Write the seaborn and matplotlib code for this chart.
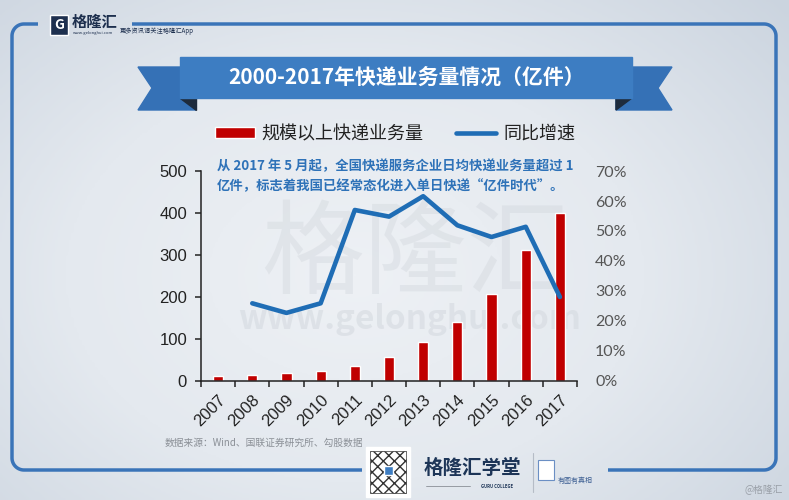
import numpy as np
import pandas as pd
import matplotlib.pyplot as plt
import seaborn as sns
from matplotlib.patches import Rectangle, Polygon
from matplotlib.colors import LinearSegmentedColormap
from matplotlib.ticker import FixedLocator, PercentFormatter

# data
years = ['2007', '2008', '2009', '2010', '2011', '2012',
         '2013', '2014', '2015', '2016', '2017']
volume = [12.0, 15.1, 18.6, 23.4, 36.7, 56.9, 91.9, 139.6, 206.7, 312.8, 400.6]
growth_years = ['2008', '2009', '2010', '2011', '2012',
                '2013', '2014', '2015', '2016', '2017']
growth = [25.9, 22.7, 25.9, 57.0, 54.8, 61.6, 51.9, 48.0, 51.4, 28.0]

title = '2000-2017年快递业务量情况（亿件）'
bar_label = '规模以上快递业务量'
line_label = '同比增速'
note_lines = ['从 2017 年 5 月起，全国快递服务企业日均快递业务量超过 1',
              '亿件，标志着我国已经常态化进入单日快递“亿件时代”。']
source = '数据来源：Wind、国联证券研究所、勾股数据'

sns.set_style('ticks')
plt.rcParams['font.family'] = ['Noto Sans CJK SC', 'DejaVu Sans']

fig = plt.figure(figsize=(7.89, 5), dpi=100)

# background layer in pixel coordinates
bg = fig.add_axes([0, 0, 1, 1], zorder=0)
bg.set_xlim(0, 789)
bg.set_ylim(500, 0)
bg.axis('off')

gx, gy = np.meshgrid(np.linspace(-1, 1, 300), np.linspace(-1, 1, 200))
shade = np.sqrt((gx + 0.1) ** 2 * 0.9 + (gy - 0.1) ** 2 * 0.7)
bg_cmap = LinearSegmentedColormap.from_list('bg', ['#eef1f5', '#e4e9ef', '#cbd4df'])
bg.imshow(shade, cmap=bg_cmap, extent=[0, 789, 500, 0], aspect='auto', zorder=0)

# rounded blue frame with gaps for logo and footer
frame_c = '#3a74b8'
r = 12
x0, x1, y0, y1 = 12, 776, 24, 470


def arc(cx, cy, a0, a1):
    t = np.radians(np.linspace(a0, a1, 20))
    return cx + r * np.cos(t), cy + r * np.sin(t)


ax_l, ay_l = arc(x0 + r, y0 + r, 270, 180)
bx_l, by_l = arc(x0 + r, y1 - r, 180, 90)
px = np.concatenate([[38], ax_l, bx_l, [362]])
py = np.concatenate([[y0], ay_l, by_l, [y1]])
bg.plot(px, py, color=frame_c, lw=2.5, zorder=1, solid_capstyle='butt')
cx_r, cy_r = arc(x1 - r, y1 - r, 90, 0)
dx_r, dy_r = arc(x1 - r, y0 + r, 0, -90)
px = np.concatenate([[608], cx_r, dx_r, [132]])
py = np.concatenate([[y1], cy_r, dy_r, [y0]])
bg.plot(px, py, color=frame_c, lw=2.5, zorder=1, solid_capstyle='butt')

# title ribbon
tail_c = '#3571b6'
bg.add_patch(Polygon([(138, 67), (196, 67), (196, 110), (138, 110), (152, 88)],
                     closed=True, color=tail_c, zorder=2))
bg.add_patch(Polygon([(616, 67), (672, 67), (658, 88), (672, 110), (616, 110)],
                     closed=True, color=tail_c, zorder=2))
bg.add_patch(Polygon([(180, 98), (196, 98), (196, 110)], closed=True,
                     color='#1e2b3c', zorder=3))
bg.add_patch(Polygon([(616, 98), (632, 98), (616, 110)], closed=True,
                     color='#1e2b3c', zorder=3))
bg.add_patch(Rectangle((180, 57), 452, 41, color='#3d7dc2', zorder=4))
bg.text(407, 77, title, color='white', fontsize=15, fontweight='bold',
        ha='center', va='center', zorder=5)

# top-left logo
bg.add_patch(Rectangle((50, 15), 18, 20, facecolor='#1d2f4e', zorder=2))
bg.text(59, 25, 'G', color='white', fontsize=10, fontweight='bold',
        ha='center', va='center', zorder=3)
bg.text(72, 22, '格隆汇', color='#1d2f4e', fontsize=11, fontweight='bold',
        va='center', zorder=3)
bg.text(73, 33, 'www.gelonghui.com', color='#1d2f4e', fontsize=3, va='center')
bg.text(120, 31, '更多资讯请关注格隆汇App', color='#1d2f4e', fontsize=4.5,
        va='center')

# watermark
bg.text(415, 256, '格隆汇', color='#d3d8de', alpha=0.45, fontsize=74,
        ha='center', va='center', zorder=1)
bg.text(410, 320, 'www.gelonghui.com', color='#d3d8de', alpha=0.55,
        fontsize=24, fontweight='bold', ha='center', va='center', zorder=1)

# annotation
for i, line in enumerate(note_lines):
    bg.text(217, 166 + i * 20, line, color='#2e72b8', fontsize=9.6,
            fontweight='bold', va='center', zorder=6)

# footer
bg.text(165, 443, source, color='#8a8f96', fontsize=7, va='center')
bg.add_patch(Rectangle((366, 447), 44, 50, facecolor='white', zorder=2))
bg.add_patch(Rectangle((370, 451), 36, 42, facecolor='white', edgecolor='#333333',
                       hatch='xxx', lw=0.5, zorder=3))
bg.add_patch(Rectangle((384, 466), 9, 9, facecolor='#3d7dc2', zorder=4))
bg.text(472, 468, '格隆汇学堂', color='#1d3557', fontsize=14, fontweight='bold',
        ha='center', va='center')
bg.plot([426, 470], [486, 486], color='#8a8f96', lw=0.6)
bg.text(497, 486, 'GURU COLLEGE', color='#1d3557', fontsize=3,
        fontweight='bold', ha='center', va='center')
bg.plot([533, 533], [453, 492], color='#b5bcc6', lw=0.8)
bg.add_patch(Rectangle((538, 460), 16, 20, facecolor='white', edgecolor='#6b8fc4',
                       lw=0.8, zorder=3))
bg.text(558, 481, '有图有真相', color='#3d5f93', fontsize=5, va='center')
bg.text(783, 490, '@格隆汇', color='#9aa0a8', fontsize=7, ha='right', va='center')

# main chart
ax = fig.add_axes([201 / 789, 1 - 381 / 500, 376 / 789, 210 / 500], zorder=2)
ax.set_facecolor('none')
df = pd.DataFrame({'year': years, 'volume': volume})
sns.barplot(data=df, x='year', y='volume', color='#c00000', saturation=1,
            width=0.3, ax=ax, label=bar_label)
if ax.get_legend() is not None:
    ax.get_legend().remove()
ax.set_xlim(-0.5, 10.5)
ax.set_ylim(0, 500)
ax.set_yticks(range(0, 501, 100))
ax.set_xlabel('')
ax.set_ylabel('')
ax.xaxis.set_minor_locator(FixedLocator(np.arange(-0.5, 11, 1)))
ax.tick_params(axis='x', which='major', length=0, pad=8)
ax.tick_params(axis='x', which='minor', length=4, width=1.1, direction='out',
               color='#222222')
ax.tick_params(axis='y', length=4, width=1.1, direction='out', color='#222222',
               pad=6)
for lbl in ax.get_xticklabels():
    lbl.set_rotation(45)
    lbl.set_ha('right')
    lbl.set_rotation_mode('anchor')
for lbl in ax.get_xticklabels() + ax.get_yticklabels():
    lbl.set_fontfamily(['Liberation Sans', 'DejaVu Sans'])
    lbl.set_fontsize(12)
    lbl.set_color('#222222')
for side in ['top', 'right']:
    ax.spines[side].set_visible(False)
for side in ['left', 'bottom']:
    ax.spines[side].set_linewidth(1.1)
    ax.spines[side].set_color('#222222')

ax2 = ax.twinx()
ax2.set_facecolor('none')
gdf = pd.DataFrame({'pos': [years.index(y) for y in growth_years], 'growth': growth})
sns.lineplot(data=gdf, x='pos', y='growth', color='#1f6db5', linewidth=3.3,
             ax=ax2, label=line_label, legend=False)
if ax2.get_legend() is not None:
    ax2.get_legend().remove()
ax2.set_ylim(0, 70)
ax2.set_yticks(range(0, 71, 10))
ax2.yaxis.set_major_formatter(PercentFormatter(decimals=0))
ax2.set_ylabel('')
ax2.tick_params(axis='y', length=0, pad=13)
for lbl in ax2.get_yticklabels():
    lbl.set_fontfamily(['Lato', 'DejaVu Sans'])
    lbl.set_fontsize(11.5)
    lbl.set_color('#555555')
for side in ['top', 'right', 'left', 'bottom']:
    ax2.spines[side].set_visible(False)
ax.set_xlim(-0.5, 10.5)

handles = [ax.patches[0], ax2.lines[0]]
leg = fig.legend(handles, [bar_label, line_label], loc='center',
                 bbox_to_anchor=(395 / 789, 1 - 134 / 500), ncol=2, frameon=False,
                 fontsize=13, handlelength=2.2, handleheight=0.5,
                 handletextpad=0.4, columnspacing=1.8)
for t in leg.get_texts():
    t.set_color('#222222')

fig.savefig('out.png', dpi=100)
